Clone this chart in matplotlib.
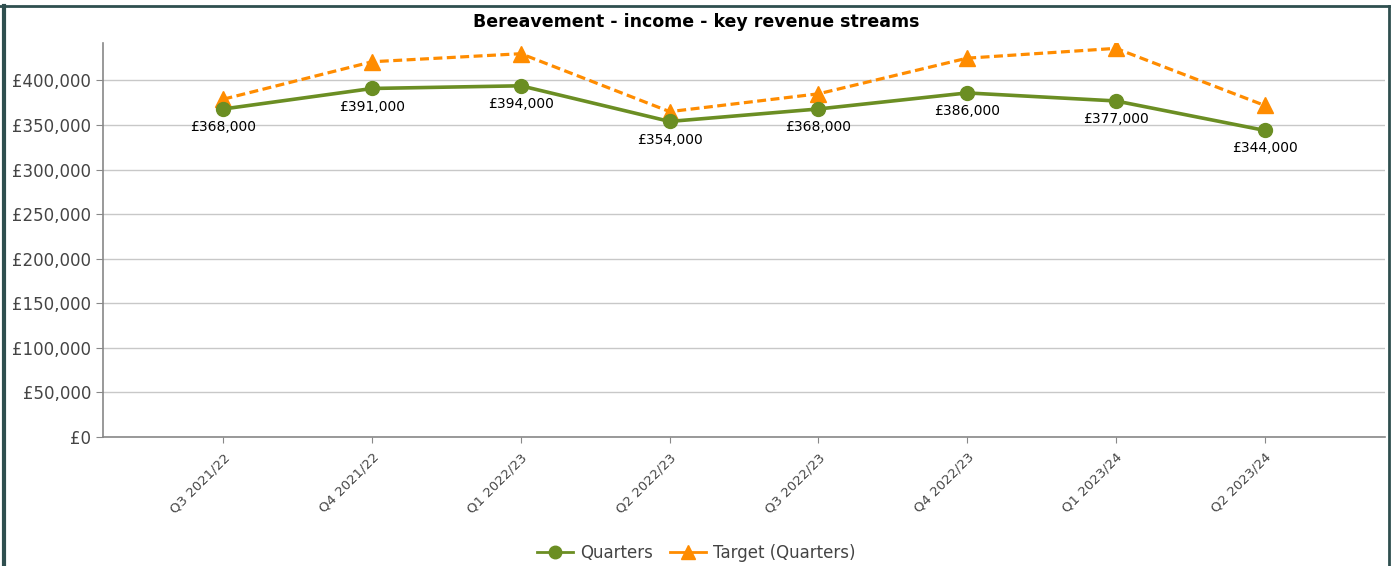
import matplotlib
matplotlib.use('Agg')
import matplotlib.pyplot as plt
from matplotlib.lines import Line2D
from matplotlib.ticker import FuncFormatter

# data
quarters = ['Q3 2021/22', 'Q4 2021/22', 'Q1 2022/23', 'Q2 2022/23',
            'Q3 2022/23', 'Q4 2022/23', 'Q1 2023/24', 'Q2 2023/24']
actual = [368000, 391000, 394000, 354000, 368000, 386000, 377000, 344000]
target = [379000, 421000, 430000, 365000, 385000, 425000, 436000, 372000]

green = '#6b8e23'
orange = '#ff8c00'
grey_txt = '#444444'

plt.rcParams['font.family'] = ['DejaVu Sans']

fig = plt.figure(figsize=(13.92, 5.66), dpi=100)
ax = fig.add_axes([0.074, 0.228, 0.921, 0.696])

x = list(range(len(quarters)))
ax.plot(x, target, color=orange, lw=2.3, ls=(0, (2.8, 1.4)), marker='^',
        markersize=11, zorder=3, label='Target (Quarters)')
ax.plot(x, actual, color=green, lw=2.6, marker='o', markersize=10,
        zorder=4, label='Quarters')

for xi, v in zip(x, actual):
    ax.annotate(f'£{v:,}', (xi, v), xytext=(0, -8), textcoords='offset points',
                ha='center', va='top', fontsize=10, color='black', zorder=5)

ax.set_ylim(0, 442000)
ax.set_xlim(-0.81, 7.81)
ax.set_yticks(range(0, 400001, 50000))
ax.yaxis.set_major_formatter(FuncFormatter(lambda v, p: f'£{int(v):,}'))
ax.set_xticks(x)
ax.set_xticklabels(quarters, rotation=45, ha='right', rotation_mode='anchor')

ax.grid(axis='y', color='#c8c8c8', lw=1)
ax.set_axisbelow(True)
for s in ['top', 'right']:
    ax.spines[s].set_visible(False)
for s in ['left', 'bottom']:
    ax.spines[s].set_color('#888888')
    ax.spines[s].set_linewidth(1.2)
ax.tick_params(axis='y', labelsize=12, colors='#888888', labelcolor=grey_txt, length=5)
ax.tick_params(axis='x', labelsize=9.5, colors='#888888', labelcolor=grey_txt, length=4, pad=6)

fig.text(0.5, 0.961, 'Bereavement - income - key revenue streams', ha='center',
         va='center', fontsize=12.5, fontweight='bold')

handles = [Line2D([], [], color=green, lw=2, marker='o', markersize=9),
           Line2D([], [], color=orange, lw=2, marker='^', markersize=10)]
fig.legend(handles, ['Quarters', 'Target (Quarters)'], loc='center',
           bbox_to_anchor=(0.5, 0.023), ncol=2, frameon=False, fontsize=12,
           handlelength=2.2, columnspacing=1.0, handletextpad=0.4,
           labelcolor=grey_txt)

# dark frame around the chart
fc = '#2f4f4f'
fig.add_artist(Line2D([0.003, 0.003], [0, 0.99], transform=fig.transFigure, color=fc, lw=3))
fig.add_artist(Line2D([0.0, 0.998], [0.99, 0.99], transform=fig.transFigure, color=fc, lw=2))
fig.add_artist(Line2D([0.9975, 0.9975], [0, 0.99], transform=fig.transFigure, color=fc, lw=2))

fig.savefig('out.png', dpi=100)
